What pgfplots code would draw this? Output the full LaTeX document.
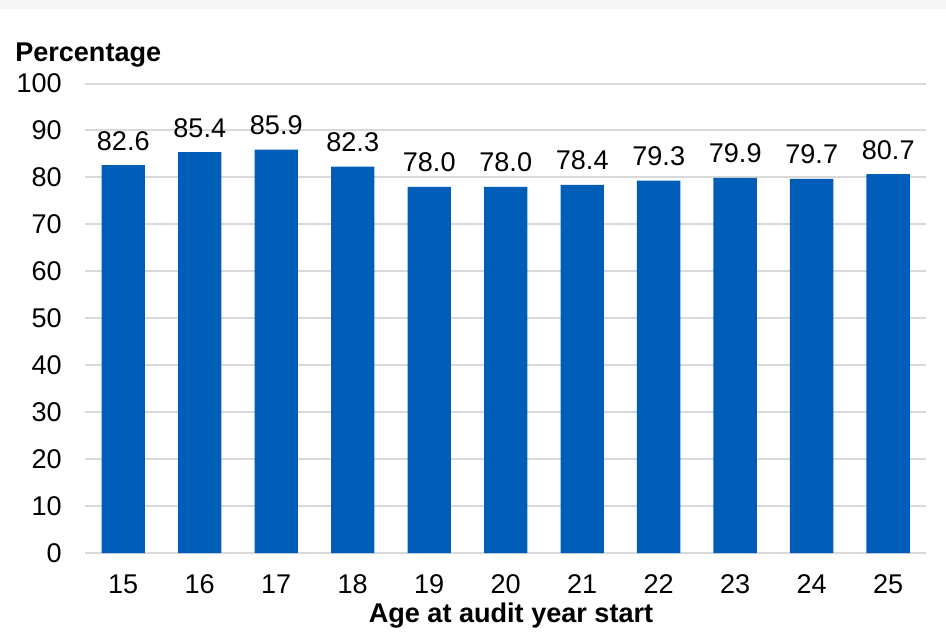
\documentclass[border=0pt]{standalone}
\usepackage{pgfplots}
\pgfplotsset{compat=1.18}
\usepackage{fontspec}
\setmainfont{Liberation Sans}
\definecolor{barblue}{RGB}{0,94,184}
\definecolor{gridgray}{RGB}{217,217,217}
\definecolor{bandgray}{RGB}{246,246,246}
\newcommand{\chartfont}{\fontsize{20.3}{24}\selectfont}
\begin{document}
\begin{tikzpicture}[x=1pt,y=1pt]
% canvas: 946 x 633 px at 0.75pt per px
\fill[white] (0,0) rectangle (709.5,474.75);
\fill[bandgray] (0,468) rectangle (709.5,474.75);
\path[use as bounding box] (0,0) rectangle (709.5,474.75);
\begin{axis}[
  at={(63.75pt,60pt)}, anchor=south west,
  scale only axis,
  width=631.1pt, height=352.1pt,
  xmin=14.5, xmax=25.5,
  ymin=0, ymax=100,
  xtick={15,...,25},
  ytick={0,10,...,100},
  major tick length=0pt,
  axis line style={draw=none},
  ymajorgrids,
  major grid style={draw=gridgray, line width=1.5pt},
  /pgf/number format/assume math mode=true,
  tick label style={font=\chartfont},
  yticklabel style={anchor=east, inner sep=0pt, xshift=-17.25pt},
  xticklabel style={anchor=base, inner sep=0pt, yshift=-30pt},
  ybar, bar width=32.6pt,
  nodes near coords,
  nodes near coords style={font=\chartfont, anchor=base, inner sep=0pt, yshift=11.25pt,
    /pgf/number format/fixed, /pgf/number format/fixed zerofill, /pgf/number format/precision=1},
  clip=false,
]
\addplot[fill=barblue, draw=none] coordinates {
  (15,82.6) (16,85.4) (17,85.9) (18,82.3) (19,78.0) (20,78.0)
  (21,78.4) (22,79.3) (23,79.9) (24,79.7) (25,80.7)
};
\end{axis}
\node[anchor=base west, inner sep=0pt, font=\chartfont\bfseries] at (11.25,428.25) {Percentage};
\node[anchor=base, inner sep=0pt, font=\chartfont\bfseries] at (383.25,8.25) {Age at audit year start};
\end{tikzpicture}
\end{document}
